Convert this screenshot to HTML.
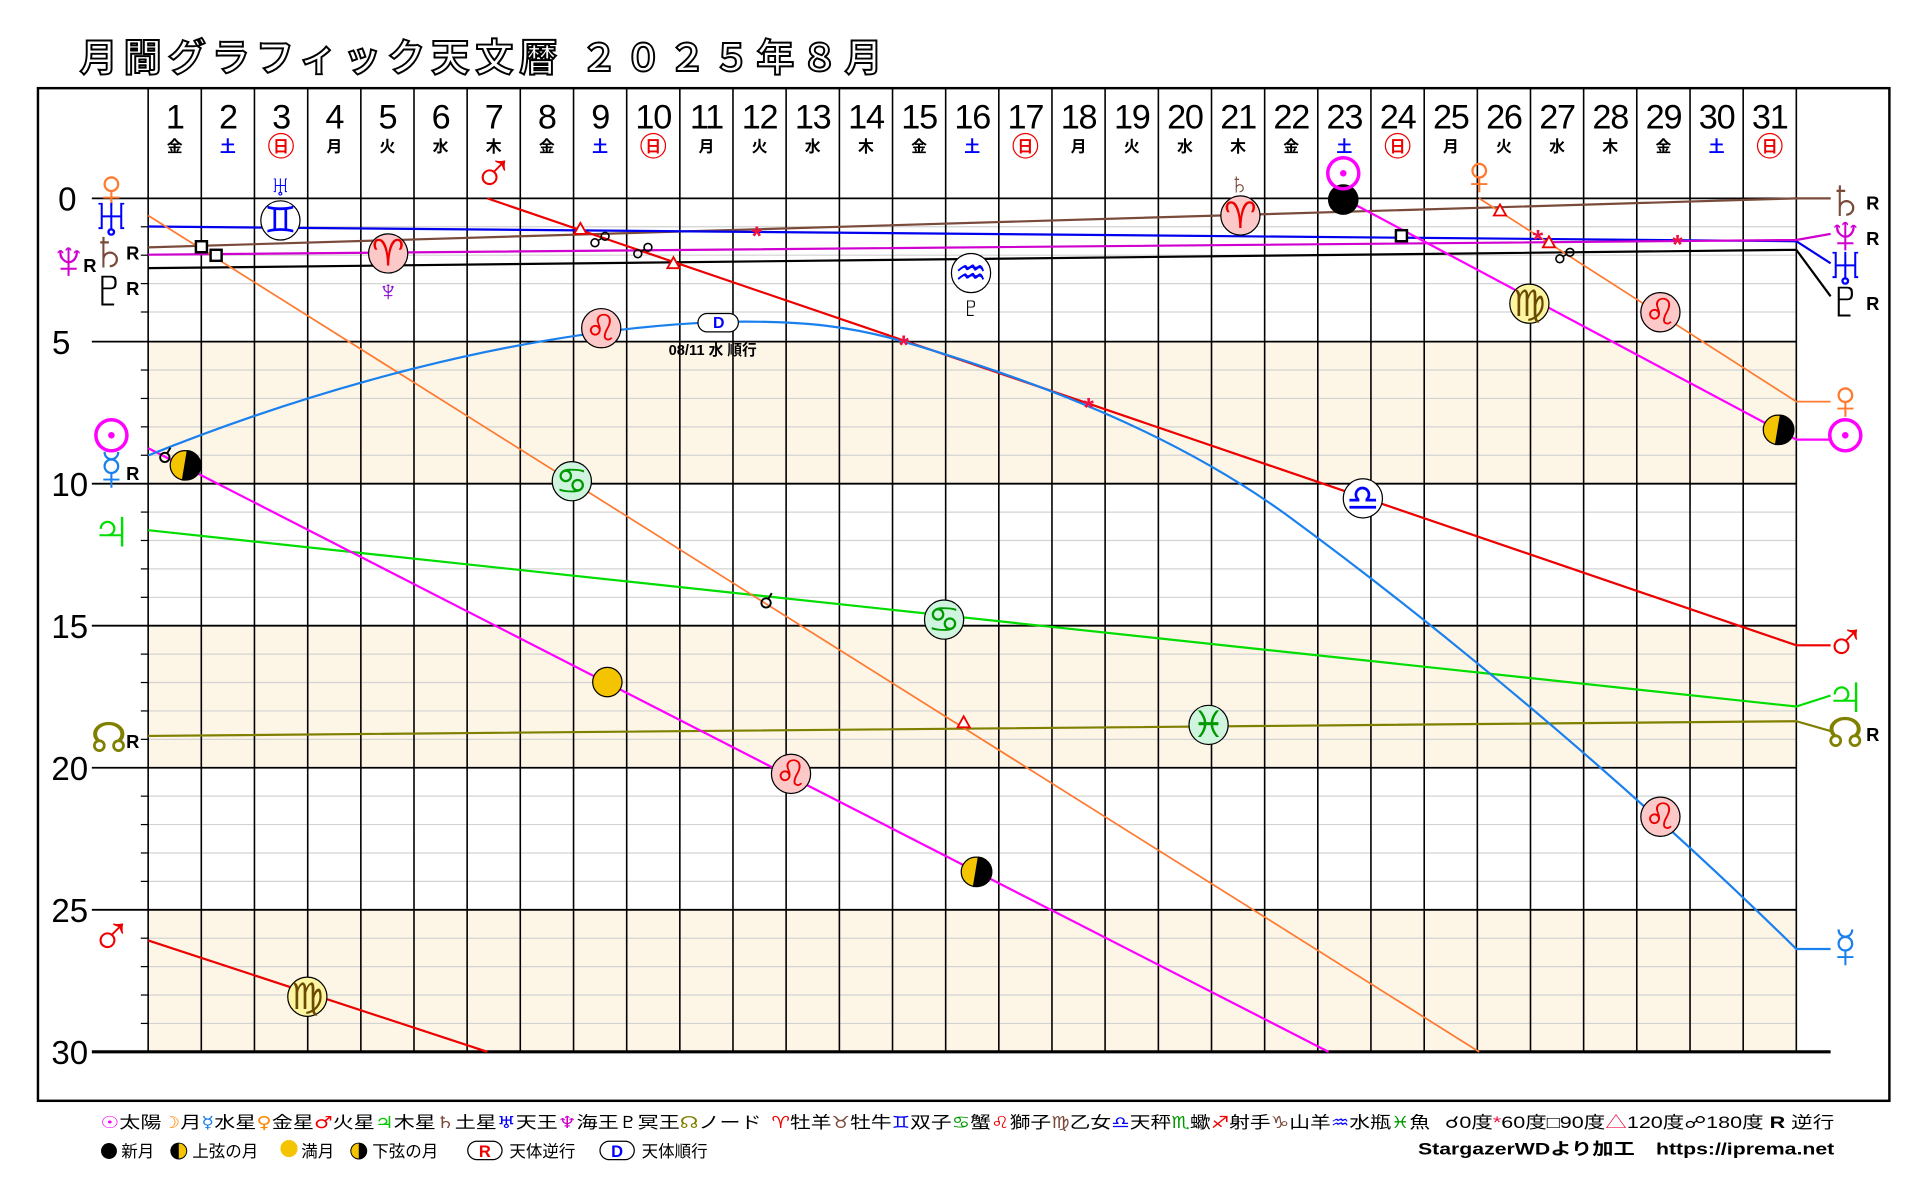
<!DOCTYPE html>
<html><head><meta charset="utf-8"><style>
html,body{margin:0;padding:0;background:#fff;}
svg{display:block;}
text{font-family:"Liberation Sans","Noto Sans CJK JP",sans-serif;}
.g{font-family:"DejaVu Sans","Liberation Sans",sans-serif;}
</style></head><body>
<svg width="1920" height="1200" viewBox="0 0 1568 980" preserveAspectRatio="none" xmlns="http://www.w3.org/2000/svg">
<text x="65" y="58" font-size="31" font-weight="bold" fill="#fff" stroke="#000" stroke-width="1.6" letter-spacing="5">月間グラフィック天文暦 ２０２５年８月</text>
<rect x="31" y="72" width="1512" height="827" fill="#fff" stroke="#000" stroke-width="2"/>
<g fill="#fdf5e6">
<rect x="121" y="279" width="1346" height="116"/>
<rect x="121" y="511" width="1346" height="116"/>
<rect x="121" y="743" width="1346" height="116"/>
</g>
<g stroke="#d3d3d3" stroke-width="1">
<line x1="121" x2="1467" y1="185.2" y2="185.2"/><line x1="121" x2="1467" y1="208.4" y2="208.4"/><line x1="121" x2="1467" y1="231.6" y2="231.6"/><line x1="121" x2="1467" y1="254.8" y2="254.8"/>
<line x1="121" x2="1467" y1="302.2" y2="302.2"/><line x1="121" x2="1467" y1="325.4" y2="325.4"/><line x1="121" x2="1467" y1="348.6" y2="348.6"/><line x1="121" x2="1467" y1="371.8" y2="371.8"/>
<line x1="121" x2="1467" y1="418.2" y2="418.2"/><line x1="121" x2="1467" y1="441.4" y2="441.4"/><line x1="121" x2="1467" y1="464.6" y2="464.6"/><line x1="121" x2="1467" y1="487.8" y2="487.8"/>
<line x1="121" x2="1467" y1="534.2" y2="534.2"/><line x1="121" x2="1467" y1="557.4" y2="557.4"/><line x1="121" x2="1467" y1="580.6" y2="580.6"/><line x1="121" x2="1467" y1="603.8" y2="603.8"/>
<line x1="121" x2="1467" y1="650.2" y2="650.2"/><line x1="121" x2="1467" y1="673.4" y2="673.4"/><line x1="121" x2="1467" y1="696.6" y2="696.6"/><line x1="121" x2="1467" y1="719.8" y2="719.8"/>
<line x1="121" x2="1467" y1="766.2" y2="766.2"/><line x1="121" x2="1467" y1="789.4" y2="789.4"/><line x1="121" x2="1467" y1="812.6" y2="812.6"/><line x1="121" x2="1467" y1="835.8" y2="835.8"/>
</g>
<g stroke="#000" stroke-width="1">
<line x1="115" x2="121" y1="185.2" y2="185.2"/><line x1="115" x2="121" y1="208.4" y2="208.4"/><line x1="115" x2="121" y1="231.6" y2="231.6"/><line x1="115" x2="121" y1="254.8" y2="254.8"/>
<line x1="115" x2="121" y1="302.2" y2="302.2"/><line x1="115" x2="121" y1="325.4" y2="325.4"/><line x1="115" x2="121" y1="348.6" y2="348.6"/><line x1="115" x2="121" y1="371.8" y2="371.8"/>
<line x1="115" x2="121" y1="418.2" y2="418.2"/><line x1="115" x2="121" y1="441.4" y2="441.4"/><line x1="115" x2="121" y1="464.6" y2="464.6"/><line x1="115" x2="121" y1="487.8" y2="487.8"/>
<line x1="115" x2="121" y1="534.2" y2="534.2"/><line x1="115" x2="121" y1="557.4" y2="557.4"/><line x1="115" x2="121" y1="580.6" y2="580.6"/><line x1="115" x2="121" y1="603.8" y2="603.8"/>
<line x1="115" x2="121" y1="650.2" y2="650.2"/><line x1="115" x2="121" y1="673.4" y2="673.4"/><line x1="115" x2="121" y1="696.6" y2="696.6"/><line x1="115" x2="121" y1="719.8" y2="719.8"/>
<line x1="115" x2="121" y1="766.2" y2="766.2"/><line x1="115" x2="121" y1="789.4" y2="789.4"/><line x1="115" x2="121" y1="812.6" y2="812.6"/><line x1="115" x2="121" y1="835.8" y2="835.8"/>
</g>
<g stroke="#000" stroke-width="1.3">
<line x1="121" x2="121" y1="72" y2="859"/><line x1="164.4" x2="164.4" y1="72" y2="859"/><line x1="207.8" x2="207.8" y1="72" y2="859"/><line x1="251.3" x2="251.3" y1="72" y2="859"/><line x1="294.7" x2="294.7" y1="72" y2="859"/><line x1="338.1" x2="338.1" y1="72" y2="859"/><line x1="381.5" x2="381.5" y1="72" y2="859"/><line x1="424.9" x2="424.9" y1="72" y2="859"/><line x1="468.4" x2="468.4" y1="72" y2="859"/><line x1="511.8" x2="511.8" y1="72" y2="859"/><line x1="555.2" x2="555.2" y1="72" y2="859"/><line x1="598.6" x2="598.6" y1="72" y2="859"/><line x1="642" x2="642" y1="72" y2="859"/><line x1="685.5" x2="685.5" y1="72" y2="859"/><line x1="728.9" x2="728.9" y1="72" y2="859"/><line x1="772.3" x2="772.3" y1="72" y2="859"/><line x1="815.7" x2="815.7" y1="72" y2="859"/><line x1="859.1" x2="859.1" y1="72" y2="859"/><line x1="902.5" x2="902.5" y1="72" y2="859"/><line x1="946" x2="946" y1="72" y2="859"/><line x1="989.4" x2="989.4" y1="72" y2="859"/><line x1="1032.8" x2="1032.8" y1="72" y2="859"/><line x1="1076.2" x2="1076.2" y1="72" y2="859"/><line x1="1119.6" x2="1119.6" y1="72" y2="859"/><line x1="1163.1" x2="1163.1" y1="72" y2="859"/><line x1="1206.5" x2="1206.5" y1="72" y2="859"/><line x1="1249.9" x2="1249.9" y1="72" y2="859"/><line x1="1293.3" x2="1293.3" y1="72" y2="859"/><line x1="1336.7" x2="1336.7" y1="72" y2="859"/><line x1="1380.2" x2="1380.2" y1="72" y2="859"/><line x1="1423.6" x2="1423.6" y1="72" y2="859"/><line x1="1467" x2="1467" y1="72" y2="859"/>
</g>
<g stroke="#000" stroke-width="1.5">
<line x1="75" x2="1495" y1="162" y2="162"/><line x1="75" x2="1467" y1="279" y2="279"/><line x1="75" x2="1467" y1="395" y2="395"/><line x1="75" x2="1467" y1="511" y2="511"/><line x1="75" x2="1467" y1="627" y2="627"/><line x1="75" x2="1467" y1="743" y2="743"/><line x1="75" x2="1495" y1="859" y2="859" stroke-width="2.5"/>
</g>
<g font-size="27" text-anchor="middle" fill="#000">
<text x="55" y="172" transform="translate(55,0) scale(0,1)" display="none"></text>
<text x="55" y="172">0</text><text x="50" y="289">5</text><text x="57" y="405">10</text><text x="57" y="521">15</text><text x="57" y="637">20</text><text x="57" y="753">25</text><text x="57" y="869">30</text>
</g>
<g font-size="28" text-anchor="middle" fill="#000" letter-spacing="-1">
<text x="142.7" y="105">1</text><text x="186.1" y="105">2</text><text x="229.5" y="105">3</text><text x="273" y="105">4</text><text x="316.4" y="105">5</text><text x="359.8" y="105">6</text><text x="403.2" y="105">7</text><text x="446.6" y="105">8</text><text x="490.1" y="105">9</text><text x="533.5" y="105">10</text><text x="576.9" y="105">11</text><text x="620.3" y="105">12</text><text x="663.7" y="105">13</text><text x="707.2" y="105">14</text><text x="750.6" y="105">15</text><text x="794" y="105">16</text><text x="837.4" y="105">17</text><text x="880.8" y="105">18</text><text x="924.3" y="105">19</text><text x="967.7" y="105">20</text><text x="1011.1" y="105">21</text><text x="1054.5" y="105">22</text><text x="1097.9" y="105">23</text><text x="1141.4" y="105">24</text><text x="1184.8" y="105">25</text><text x="1228.2" y="105">26</text><text x="1271.6" y="105">27</text><text x="1315" y="105">28</text><text x="1358.5" y="105">29</text><text x="1401.9" y="105">30</text><text x="1445.3" y="105">31</text>
</g>
<g font-size="13" font-weight="bold" text-anchor="middle">
<text x="142.7" y="124">金</text><text x="186.1" y="124" fill="#00f">土</text><text x="229.5" y="124" fill="#e00">日</text><text x="273" y="124">月</text><text x="316.4" y="124">火</text><text x="359.8" y="124">水</text><text x="403.2" y="124">木</text><text x="446.6" y="124">金</text><text x="490.1" y="124" fill="#00f">土</text><text x="533.5" y="124" fill="#e00">日</text><text x="576.9" y="124">月</text><text x="620.3" y="124">火</text><text x="663.7" y="124">水</text><text x="707.2" y="124">木</text><text x="750.6" y="124">金</text><text x="794" y="124" fill="#00f">土</text><text x="837.4" y="124" fill="#e00">日</text><text x="880.8" y="124">月</text><text x="924.3" y="124">火</text><text x="967.7" y="124">水</text><text x="1011.1" y="124">木</text><text x="1054.5" y="124">金</text><text x="1097.9" y="124" fill="#00f">土</text><text x="1141.4" y="124" fill="#e00">日</text><text x="1184.8" y="124">月</text><text x="1228.2" y="124">火</text><text x="1271.6" y="124">水</text><text x="1315" y="124">木</text><text x="1358.5" y="124">金</text><text x="1401.9" y="124" fill="#00f">土</text><text x="1445.3" y="124" fill="#e00">日</text>
</g>
<g fill="none" stroke="#e00" stroke-width="1"><circle cx="229.5" cy="119" r="10"/><circle cx="533.5" cy="119" r="10"/><circle cx="837.4" cy="119" r="10"/><circle cx="1141.4" cy="119" r="10"/><circle cx="1445.3" cy="119" r="10"/></g>

<g fill="none" stroke-width="1.8">
<polyline stroke="#7a4a3a" points="121,202 1467,162 1495,162"/>
<polyline stroke="#0000ee" points="121,185 1467,197 1495,215"/>
<polyline stroke="#d000d0" points="121,208 1467,196 1495,191"/>
<polyline stroke="#000" points="121,219 1467,204 1495,242"/>
<polyline stroke="#00dd00" points="121,433 1467,577 1495,568"/>
<polyline stroke="#808000" points="121,601 1467,589 1495,597"/>
<polyline stroke="#ff7a30" stroke-width="1.4" points="121,176 1208,859"/>
<polyline stroke="#ff7a30" stroke-width="1.4" points="1208,162 1467,328 1495,328"/>
<polyline stroke="#ee0000" points="398,162 1467,527 1495,527"/>
<polyline stroke="#ee0000" points="121,768 398,859"/>
<polyline stroke="#ff00ff" points="121,366 1085,859"/>
<polyline stroke="#ff00ff" points="1097,162 1467,359 1495,359"/>
<path stroke="#1a80ee" d="M121,372 C250,320 420,270 585,263 C660,261 700,268 738,279 C850,312 960,355 1050,420 C1200,530 1350,660 1467,775 L1495,775"/>
</g>

<g fill="#fff" stroke="#000" stroke-width="2">
<rect x="160" y="197" width="9" height="9"/><rect x="172" y="204" width="9" height="9"/><rect x="1140" y="188" width="9" height="9"/>
</g>
<g fill="#fff" stroke="#e00" stroke-width="1.5">
<polygon points="474,182 469,191 479,191"/><polygon points="550,210 545,219 555,219"/><polygon points="787,585 782,594 792,594"/><polygon points="1225,167 1220,176 1230,176"/><polygon points="1265,193 1260,202 1270,202"/>
</g>
<g font-size="22" font-weight="bold" fill="#ee1144" text-anchor="middle">
<text x="618" y="200">*</text><text x="738" y="289">*</text><text x="889" y="340">*</text><text x="1256" y="203">*</text><text x="1370" y="207">*</text>
</g>
<g class="g" font-size="18" text-anchor="middle" fill="#000">
<text x="490" y="202">☍&#xFE0E;</text><text x="525" y="211">☍&#xFE0E;</text><text x="1278" y="215">☍&#xFE0E;</text><text x="135" y="378">☌&#xFE0E;</text><text x="626" y="497">☌&#xFE0E;</text>
</g>

<rect x="570" y="256" width="33" height="15" rx="7.5" fill="#fff" stroke="#000"/>
<text x="587" y="268" font-size="13" font-weight="bold" fill="#00f" text-anchor="middle">D</text>
<text x="582" y="290" font-size="12" font-weight="bold" text-anchor="middle">08/11 水 順行</text>

<g stroke="#000" stroke-width="1">
<circle cx="229" cy="180" r="16" fill="#fff"/>
<circle cx="317" cy="207" r="16" fill="#fcc8c8"/>
<circle cx="491" cy="268" r="16" fill="#fcc8c8"/>
<circle cx="467" cy="393" r="16" fill="#cff5df"/>
<circle cx="771" cy="506" r="16" fill="#cff5df"/>
<circle cx="793" cy="223" r="16" fill="#fff"/>
<circle cx="1013" cy="176" r="16" fill="#fcc8c8"/>
<circle cx="1113" cy="407" r="16" fill="#fff"/>
<circle cx="1249" cy="248" r="16" fill="#fdf5a0"/>
<circle cx="1356" cy="255" r="16" fill="#fcc8c8"/>
<circle cx="987" cy="592" r="16" fill="#cff5df"/>
<circle cx="646" cy="632" r="16" fill="#fcc8c8"/>
<circle cx="1356" cy="667" r="16" fill="#fcc8c8"/>
<circle cx="251" cy="814" r="16" fill="#fdf5a0"/>
</g>
<g class="g" font-size="30" text-anchor="middle">
<text x="229" y="190" fill="#00f">♊&#xFE0E;</text>
<text x="317" y="217" fill="#e00">♈&#xFE0E;</text>
<text x="491" y="278" fill="#e00">♌&#xFE0E;</text>
<text x="467" y="403" fill="#090">♋&#xFE0E;</text>
<text x="771" y="516" fill="#090">♋&#xFE0E;</text>
<text x="793" y="233" fill="#00f">♒&#xFE0E;</text>
<text x="1013" y="186" fill="#e00">♈&#xFE0E;</text>
<text x="1113" y="417" fill="#00f">♎&#xFE0E;</text>
<text x="1249" y="258" fill="#6a4a00">♍&#xFE0E;</text>
<text x="1356" y="265" fill="#e00">♌&#xFE0E;</text>
<text x="987" y="602" fill="#090">♓&#xFE0E;</text>
<text x="646" y="642" fill="#e00">♌&#xFE0E;</text>
<text x="1356" y="677" fill="#e00">♌&#xFE0E;</text>
<text x="251" y="824" fill="#6a4a00">♍&#xFE0E;</text>
</g>

<g stroke="#000" stroke-width="1">
<circle cx="151" cy="380" r="12" fill="#f5c400"/><path d="M153,368 A12,12 0 0 1 151,392 L149,392 Z" fill="#000"/>
<circle cx="797" cy="712" r="12" fill="#f5c400"/><path d="M799,700 A12,12 0 0 1 797,724 L795,724 Z" fill="#000"/>
<circle cx="1452" cy="351" r="12" fill="#f5c400"/><path d="M1454,339 A12,12 0 0 1 1452,363 L1450,363 Z" fill="#000"/>
<circle cx="496" cy="557" r="12" fill="#f5c400"/>
<circle cx="1097" cy="163" r="12" fill="#000"/>
</g>

<g class="g" text-anchor="middle">
<text x="229" y="160" font-size="24" fill="#00f">♅&#xFE0E;</text>
<text x="403" y="157" font-size="46" fill="#e00">♂&#xFE0E;</text>
<text x="1012" y="158" font-size="24" fill="#7a4a3a">♄&#xFE0E;</text>
<text x="1097" y="159" font-size="46" fill="#ff00ff">☉&#xFE0E;</text>
<text x="1208" y="159" font-size="46" fill="#ff7a30">♀&#xFE0E;</text>
<text x="317" y="246" font-size="24" fill="#80c">♆&#xFE0E;</text>
<text x="793" y="259" font-size="24" fill="#000">♇&#xFE0E;</text>
</g>
<g class="g" font-size="46" text-anchor="middle">
<text x="91" y="170" fill="#ff7a30">♀&#xFE0E;</text>
<text x="91" y="193" fill="#00f">♅&#xFE0E;</text>
<text x="89" y="220" fill="#7a4a3a">♄&#xFE0E;</text>
<text x="56" y="228" fill="#d000d0">♆&#xFE0E;</text>
<text x="89" y="251" fill="#000">♇&#xFE0E;</text>
<text x="91" y="373" fill="#ff00ff">☉&#xFE0E;</text>
<text x="91" y="400" fill="#1a80ee">☿&#xFE0E;</text>
<text x="91" y="448" fill="#00dd00">♃&#xFE0E;</text>
<text x="89" y="614" fill="#808000" font-size="34">☊&#xFE0E;</text>
<text x="91" y="780" fill="#e00">♂&#xFE0E;</text>
</g>
<g font-size="15" font-weight="bold">
<text x="103" y="212">R</text><text x="68" y="222">R</text><text x="103" y="241">R</text><text x="103" y="392">R</text><text x="103" y="611">R</text>
</g>
<g class="g" font-size="46" text-anchor="middle">
<text x="1507" y="178" fill="#7a4a3a">♄&#xFE0E;</text>
<text x="1507" y="207" fill="#d000d0">♆&#xFE0E;</text>
<text x="1507" y="233" fill="#00f">♅&#xFE0E;</text>
<text x="1507" y="260" fill="#000">♇&#xFE0E;</text>
<text x="1507" y="342" fill="#ff7a30">♀&#xFE0E;</text>
<text x="1507" y="373" fill="#ff00ff">☉&#xFE0E;</text>
<text x="1507" y="540" fill="#e00">♂&#xFE0E;</text>
<text x="1507" y="583" fill="#00dd00">♃&#xFE0E;</text>
<text x="1507" y="610" fill="#808000" font-size="34">☊&#xFE0E;</text>
<text x="1507" y="790" fill="#1a80ee">☿&#xFE0E;</text>
</g>
<g font-size="15" font-weight="bold">
<text x="1524" y="171">R</text><text x="1524" y="200">R</text><text x="1524" y="253">R</text><text x="1524" y="605">R</text>
</g>

<text x="82" y="921" font-size="13.5" textLength="540" lengthAdjust="spacingAndGlyphs"><tspan class="g" fill="#f0f">☉&#xFE0E;</tspan>太陽<tspan fill="#f80">☽</tspan>月<tspan class="g" fill="#1a80ee">☿&#xFE0E;</tspan>水星<tspan class="g" fill="#f80">♀&#xFE0E;</tspan>金星<tspan class="g" fill="#e00">♂&#xFE0E;</tspan>火星<tspan class="g" fill="#0c0">♃&#xFE0E;</tspan>木星<tspan class="g" fill="#7a4a3a">♄&#xFE0E;</tspan>土星<tspan class="g" fill="#00f">♅&#xFE0E;</tspan>天王<tspan class="g" fill="#c0c">♆&#xFE0E;</tspan>海王<tspan class="g">♇&#xFE0E;</tspan>冥王<tspan class="g" fill="#808000">☊&#xFE0E;</tspan>ノード</text>
<text x="630" y="921" font-size="13.5" textLength="538" lengthAdjust="spacingAndGlyphs"><tspan class="g" fill="#e00">♈&#xFE0E;</tspan>牡羊<tspan class="g" fill="#7a4a3a">♉&#xFE0E;</tspan>牡牛<tspan class="g" fill="#00f">♊&#xFE0E;</tspan>双子<tspan class="g" fill="#090">♋&#xFE0E;</tspan>蟹<tspan class="g" fill="#e00">♌&#xFE0E;</tspan>獅子<tspan class="g" fill="#7a4a3a">♍&#xFE0E;</tspan>乙女<tspan class="g" fill="#00f">♎&#xFE0E;</tspan>天秤<tspan class="g" fill="#090">♏&#xFE0E;</tspan>蠍<tspan class="g" fill="#e00">♐&#xFE0E;</tspan>射手<tspan class="g" fill="#7a4a3a">♑&#xFE0E;</tspan>山羊<tspan class="g" fill="#00f">♒&#xFE0E;</tspan>水瓶<tspan class="g" fill="#090">♓&#xFE0E;</tspan>魚</text>
<text x="1180" y="921" font-size="13.5" textLength="318" lengthAdjust="spacingAndGlyphs"><tspan class="g">☌&#xFE0E;</tspan>0度<tspan fill="#e14">*</tspan>60度□90度<tspan fill="#e14">△</tspan>120度<tspan class="g">☍&#xFE0E;</tspan>180度 <tspan font-weight="bold">R</tspan> 逆行</text>
<g font-size="13.5">
<circle cx="89" cy="940" r="6.5" fill="#000"/><text x="99" y="945">新月</text>
<circle cx="146" cy="940" r="6.5" fill="#f5c400" stroke="#000" stroke-width="0.8"/><path d="M146,933.5 A6.5,6.5 0 0 0 146,946.5Z" fill="#000"/><text x="157" y="945">上弦の月</text>
<circle cx="236" cy="938" r="7" fill="#f5c400"/><text x="246" y="945">満月</text>
<circle cx="293" cy="940" r="6.5" fill="#f5c400" stroke="#000" stroke-width="0.8"/><path d="M293,933.5 A6.5,6.5 0 0 1 293,946.5Z" fill="#000"/><text x="304" y="945">下弦の月</text>
<rect x="382" y="932" width="28" height="15" rx="7.5" fill="#fff" stroke="#000"/><text x="396" y="945" fill="#e00" text-anchor="middle" font-weight="bold">R</text><text x="416" y="945">天体逆行</text>
<rect x="490" y="932" width="28" height="15" rx="7.5" fill="#fff" stroke="#000"/><text x="504" y="945" fill="#00f" text-anchor="middle" font-weight="bold">D</text><text x="524" y="945">天体順行</text>
<text x="1158" y="943" font-weight="bold" textLength="340" lengthAdjust="spacingAndGlyphs">StargazerWDより加工　https://iprema.net</text>
</g>
</svg>
</body></html>
